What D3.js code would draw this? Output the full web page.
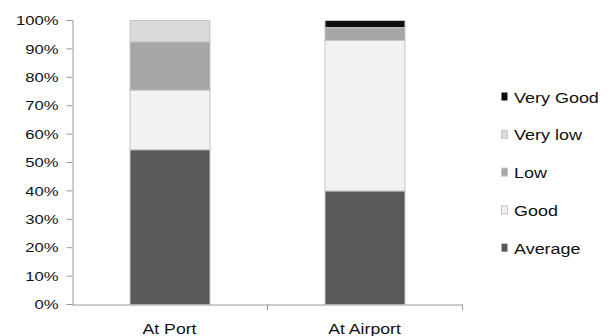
<!DOCTYPE html>
<html>
<head>
<meta charset="utf-8">
<script src="https://cdn.jsdelivr.net/npm/d3@7"></script>
<style>
  html, body { margin: 0; padding: 0; background: #fff; }
  svg { display: block; }
  text { font-family: "Liberation Sans", Arial, sans-serif; fill: #111; }
</style>
</head>
<body>
<svg id="chart" width="613" height="336"></svg>
<script>
// Categories and stacked shares (fractions of 100%)
const categories = ["At Port", "At Airport"];
const seriesKeys = ["Average", "Good", "Low", "Very low", "Very Good"];
const average  = [0.545, 0.40];
const good     = [0.21, 0.53];
const low      = [0.17, 0.045];
const veryLow  = [0.075, 0.0];
const veryGood = [0.0, 0.025];
const yTicks = [0, 0.1, 0.2, 0.3, 0.4, 0.5, 0.6, 0.7, 0.8, 0.9, 1.0];
const colors = ["#595959", "#f2f2f2", "#a6a6a6", "#d9d9d9", "#0d0d0d"];

const rows = categories.map((c, i) => ({
  cat: c,
  "Average": average[i],
  "Good": good[i],
  "Low": low[i],
  "Very low": veryLow[i],
  "Very Good": veryGood[i]
}));

const svg = d3.select("#chart");
const plotLeft = 72, plotRight = 462, plotTop = 20, plotBottom = 304;

const x = d3.scaleBand().domain(categories).range([plotLeft, plotRight])
  .paddingInner(0.59).paddingOuter(0.295);
const y = d3.scaleLinear().domain([0, 1]).range([plotBottom, plotTop]);
const color = d3.scaleOrdinal().domain(seriesKeys).range(colors);

const stacked = d3.stack().keys(seriesKeys)(rows);

// bars
svg.append("g").selectAll("g").data(stacked).join("g")
  .attr("fill", d => color(d.key))
  .selectAll("rect").data(d => d.filter(s => s[1] - s[0] > 0)).join("rect")
  .attr("x", d => x(d.data.cat) + 0.5)
  .attr("width", x.bandwidth())
  .attr("y", d => y(d[1]) + 0.5)
  .attr("height", d => y(d[0]) - y(d[1]))
  .attr("stroke", "#c4c4c4")
  .attr("stroke-width", 1);

const axisColor = "#9a9a9a";

// y axis
const yAxis = svg.append("g").attr("transform", `translate(${plotLeft + 0.5},0)`)
  .call(d3.axisLeft(y).tickValues(yTicks).tickSize(6).tickPadding(8)
    .tickFormat(d3.format(".0%")));
yAxis.select(".domain").attr("stroke", axisColor);
yAxis.selectAll(".tick line").attr("stroke", axisColor);
yAxis.selectAll(".tick text")
  .style("font-size", "13px")
  .attr("transform", "scale(1.28,1)")
  .attr("x", -14 / 1.28)
  .attr("dy", "0.36em");

// x axis
const xAxis = svg.append("g").attr("transform", `translate(0,${plotBottom + 0.5})`)
  .call(d3.axisBottom(x).tickSize(0).tickPadding(0));
xAxis.select(".domain").attr("stroke", axisColor);
xAxis.selectAll(".tick text")
  .style("font-size", "15px")
  .attr("y", 0)
  .attr("transform", "translate(0,29) scale(1.18,1)")
  .attr("dy", 0);
// category separators
const seps = [x(categories[0]) + x.step() - x.step() * x.paddingInner() / 2 + 0.5, plotRight + 0.5];
svg.append("g").selectAll("line").data(seps).join("line")
  .attr("x1", d => d).attr("x2", d => d)
  .attr("y1", plotBottom).attr("y2", plotBottom + 6)
  .attr("stroke", axisColor);

// legend
const legendKeys = seriesKeys.slice().reverse();
const lg = svg.append("g").selectAll("g").data(legendKeys).join("g")
  .attr("transform", (d, i) => `translate(501,${97 + i * 37.8})`);
lg.append("rect")
  .attr("x", 0.5).attr("y", -4.5).attr("width", 6).attr("height", 8)
  .attr("fill", d => color(d))
  .attr("stroke", d => d === "Very Good" || d === "Average" ? "none" : "#c8c8c8");
lg.append("text")
  .attr("x", 0).attr("y", 0).attr("dy", "0.36em")
  .attr("transform", "translate(13,0) scale(1.16,1)")
  .style("font-size", "15.5px")
  .text(d => d);
</script>
</body>
</html>
